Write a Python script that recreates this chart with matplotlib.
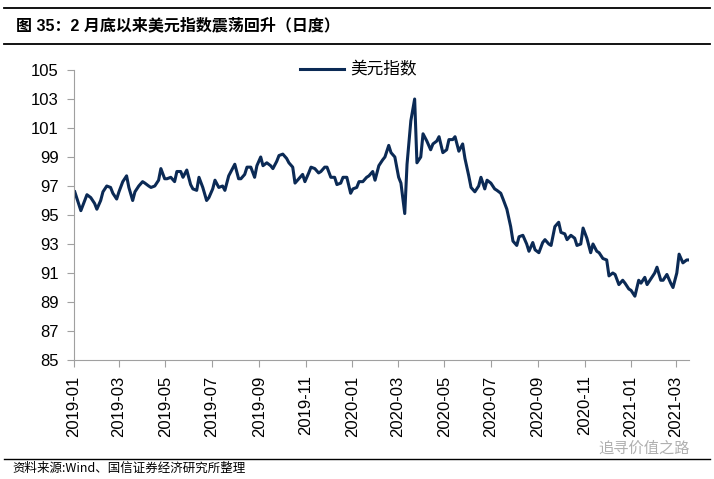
import numpy as np
import pandas as pd
import matplotlib
matplotlib.use('Agg')
import matplotlib.pyplot as plt
import matplotlib.dates as mdates
from matplotlib.lines import Line2D

plt.rcParams['font.family'] = ['Liberation Sans', 'Noto Sans CJK SC']

# US dollar index, sampled every 3rd business day from 2019-01-02
# each row = 3 weeks
dxy = [
    96.6, 95.8, 95.3, 96.0, 96.4,   # 2019-01-02
    96.2, 95.8, 95.4, 96.0, 96.6,   # 2019-01-23
    97.0, 96.9, 96.5, 96.1, 96.6,   # 2019-02-13
    97.3, 97.7, 96.9, 96.0, 96.6,   # 2019-03-06
    97.0, 97.3, 97.2, 97.0, 96.9,   # 2019-03-27
    97.0, 97.4, 98.2, 97.5, 97.5,   # 2019-04-17
    97.6, 97.3, 98.0, 98.0, 97.6,   # 2019-05-08
    98.1, 97.1, 96.8, 96.7, 97.6,   # 2019-05-29
    96.9, 96.0, 96.2, 96.8, 97.4,   # 2019-06-19
    96.9, 97.0, 96.7, 97.7, 98.0,   # 2019-07-10
    98.5, 97.5, 97.5, 97.8, 98.3,   # 2019-07-31
    98.3, 97.6, 98.4, 99.0, 98.4,   # 2019-08-21
    98.6, 98.4, 98.2, 98.7, 99.1,   # 2019-09-11
    99.2, 98.9, 98.6, 98.3, 97.2,   # 2019-10-02
    97.5, 97.8, 97.3, 97.9, 98.3,   # 2019-10-23
    98.2, 97.9, 98.0, 98.3, 98.3,   # 2019-11-13
    97.6, 97.6, 97.1, 97.2, 97.6,   # 2019-12-04
    97.6, 96.5, 96.8, 96.9, 97.3,   # 2019-12-25
    97.3, 97.6, 97.7, 98.0, 97.4,   # 2020-01-15
    98.4, 98.8, 99.0, 99.8, 99.3,   # 2020-02-05
    99.0, 97.6, 97.2, 95.1, 98.5,   # 2020-02-26
    101.5, 103.0, 98.6, 99.0, 100.6,  # 2020-03-18
    100.1, 99.5, 99.9, 100.1, 100.4,  # 2020-04-08
    99.3, 99.5, 100.2, 100.2, 100.4,  # 2020-04-29
    99.4, 99.9, 98.9, 97.7, 96.9,   # 2020-05-20
    96.6, 97.0, 97.6, 96.8, 97.4,   # 2020-06-10
    97.2, 96.8, 96.7, 96.5, 96.1,   # 2020-07-01
    95.4, 94.2, 93.2, 92.9, 93.5,   # 2020-07-22
    93.6, 93.0, 92.5, 93.1, 92.6,   # 2020-08-12
    92.4, 93.1, 93.3, 93.0, 92.9,   # 2020-09-02
    94.2, 94.5, 93.8, 93.7, 93.3,   # 2020-09-23
    93.6, 93.4, 92.9, 93.0, 94.1,   # 2020-10-14
    93.4, 92.4, 93.0, 92.5, 92.4,   # 2020-11-04
    92.0, 91.9, 90.8, 91.0, 90.9,   # 2020-11-25
    90.2, 90.5, 90.3, 89.9, 89.8,   # 2020-12-16
    89.4, 90.5, 90.3, 90.7, 90.2,   # 2021-01-06
    90.6, 91.0, 91.4, 90.5, 90.5,   # 2021-01-27
    90.9, 90.3, 90.0, 91.0, 92.3,   # 2021-02-17
    91.7, 91.9, 91.9,               # 2021-03-10
]
dates = pd.bdate_range('2019-01-02', '2021-03-18')[::3]
assert len(dates) == len(dxy), (len(dates), len(dxy))

yticks = np.arange(85, 106, 2)
xticks = pd.date_range('2019-01-01', '2021-03-01', freq='2MS')

W, H = 714, 479
fig = plt.figure(figsize=(W / 100, H / 100), dpi=100)
ax = fig.add_axes([74 / W, 1 - 360 / H, (689 - 74) / W, 290 / H])

ax.plot(dates, dxy, color='#0B2A55', lw=2.2, label='美元指数')

ax.set_ylim(85, 105)
ax.set_yticks(yticks)
ax.set_xlim(pd.Timestamp('2019-01-01'), pd.Timestamp('2021-03-18'))
ax.set_xticks(xticks)
ax.xaxis.set_major_formatter(mdates.DateFormatter('%Y-%m'))
ax.tick_params(axis='x', rotation=90, labelsize=12, length=5, color='#A0A0A0', pad=6)
ax.tick_params(axis='y', labelsize=12, length=5, color='#A0A0A0', pad=6)
for s in ['top', 'right']:
    ax.spines[s].set_visible(False)
for s in ['left', 'bottom']:
    ax.spines[s].set_color('#A0A0A0')

leg = ax.legend(loc='center', bbox_to_anchor=(0.463, 1.0), frameon=False,
                prop={'family': 'Noto Sans CJK SC', 'size': 12},
                handlelength=2.6, handletextpad=0.4)

# title block
fig.text(16 / W, 1 - 25 / H, '图 35：2 月底以来美元指数震荡回升（日度）',
         fontsize=11.5, fontweight='bold', va='center', ha='left',
         family=['Liberation Sans', 'Noto Sans CJK SC'])
for yy in [8, 44]:
    fig.add_artist(Line2D([4 / W, 710 / W], [1 - yy / H, 1 - yy / H],
                          color='black', lw=1.3))

# footer
fig.add_artist(Line2D([4 / W, 710 / W], [1 - 459 / H, 1 - 459 / H],
                      color='black', lw=1.0))
fig.text(12 / W, 1 - 468 / H, '资料来源:Wind、国信证券经济研究所整理',
         fontsize=9, va='center', ha='left',
         family=['Noto Sans CJK SC', 'DejaVu Sans'])
fig.text(690 / W, 1 - 448 / H, '追寻价值之路', fontsize=11, color='#B0B0B0',
         va='center', ha='right', family=['Noto Sans CJK SC'])

fig.savefig('out.png', dpi=100)
